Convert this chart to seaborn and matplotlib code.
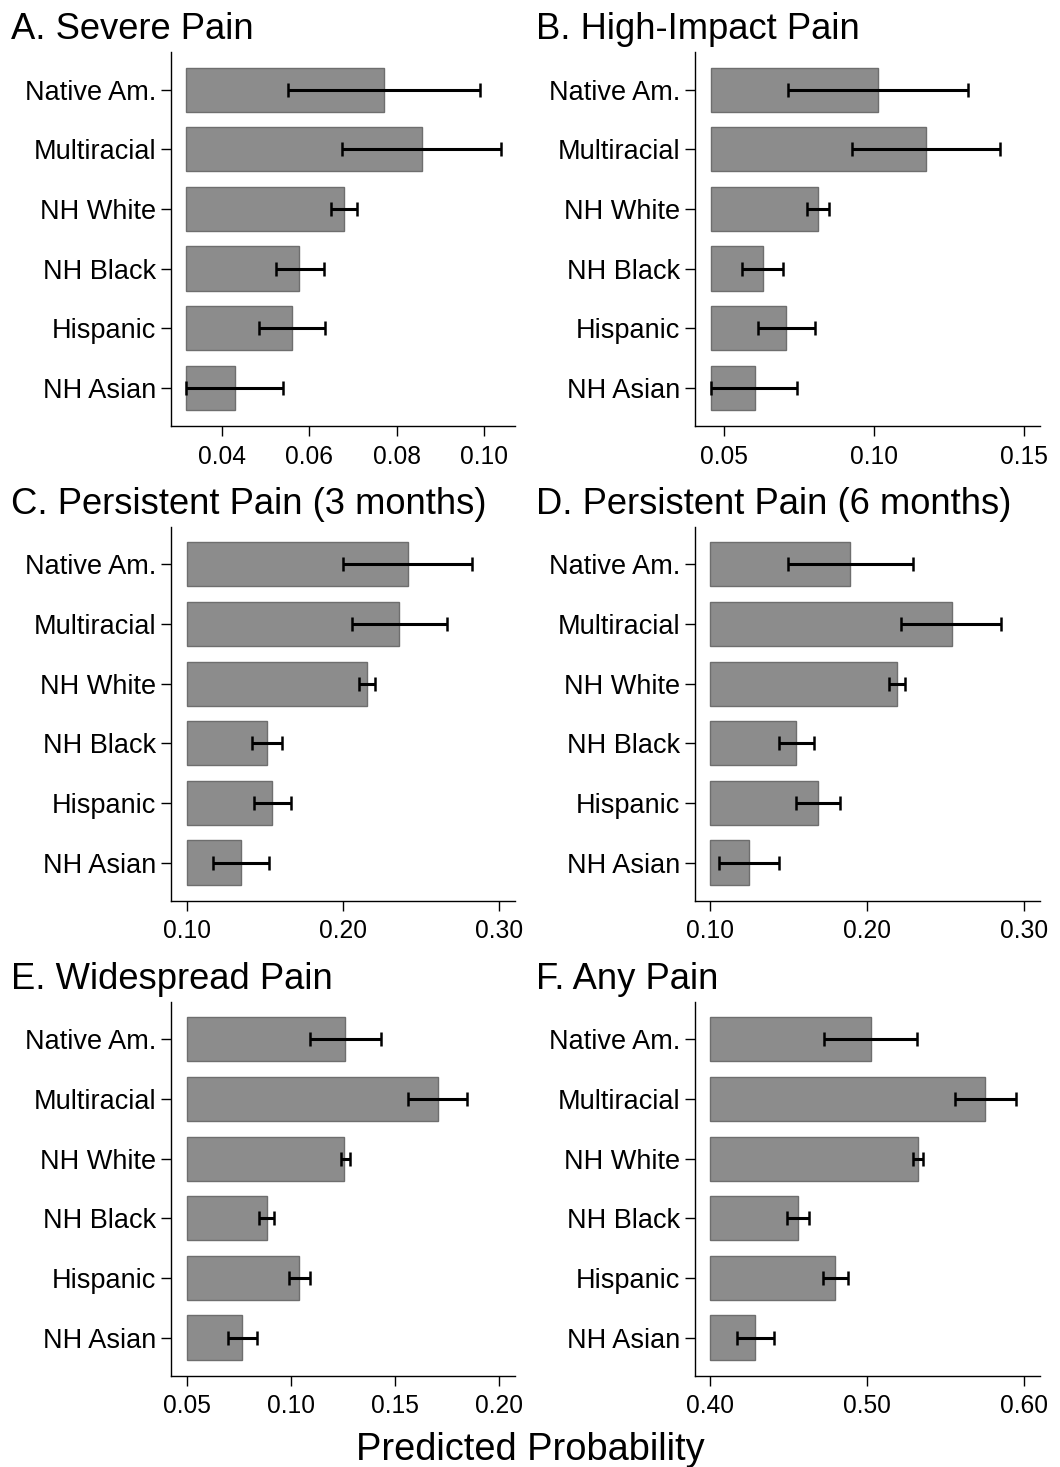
import numpy as np
import pandas as pd
import matplotlib
matplotlib.use("Agg")
import matplotlib.pyplot as plt
import seaborn as sns
from matplotlib.ticker import FormatStrFormatter

categories = ["Native Am.", "Multiracial", "NH White", "NH Black", "Hispanic", "NH Asian"]

titles = ["A. Severe Pain", "B. High-Impact Pain", "C. Persistent Pain (3 months)",
          "D. Persistent Pain (6 months)", "E. Widespread Pain", "F. Any Pain"]

severe = [0.0770, 0.0858, 0.0679, 0.0578, 0.0560, 0.0430]
severe_lo = [0.0552, 0.0676, 0.0649, 0.0525, 0.0485, 0.0319]
severe_hi = [0.0989, 0.1039, 0.0710, 0.0634, 0.0636, 0.0540]

high_impact = [0.1013, 0.1173, 0.0813, 0.0629, 0.0708, 0.0603]
high_impact_lo = [0.0713, 0.0926, 0.0778, 0.0560, 0.0613, 0.0457]
high_impact_hi = [0.1314, 0.1420, 0.0851, 0.0696, 0.0804, 0.0744]

persist3 = [0.2414, 0.2360, 0.2154, 0.1514, 0.1546, 0.1348]
persist3_lo = [0.2000, 0.2055, 0.2104, 0.1420, 0.1433, 0.1171]
persist3_hi = [0.2825, 0.2665, 0.2205, 0.1608, 0.1665, 0.1525]

persist6 = [0.1893, 0.2539, 0.2192, 0.1546, 0.1684, 0.1244]
persist6_lo = [0.1493, 0.2218, 0.2137, 0.1438, 0.1544, 0.1053]
persist6_hi = [0.2294, 0.2855, 0.2243, 0.1659, 0.1825, 0.1440]

widespread = [0.1261, 0.1704, 0.1256, 0.0885, 0.1041, 0.0767]
widespread_lo = [0.1092, 0.1563, 0.1239, 0.0849, 0.0993, 0.0697]
widespread_hi = [0.1432, 0.1843, 0.1282, 0.0919, 0.1090, 0.0836]

any_pain = [0.5022, 0.5753, 0.5324, 0.4559, 0.4795, 0.4287]
any_pain_lo = [0.4727, 0.5560, 0.5290, 0.4489, 0.4716, 0.4172]
any_pain_hi = [0.5320, 0.5949, 0.5358, 0.4631, 0.4878, 0.4408]

bases = [0.032, 0.0458, 0.10, 0.10, 0.05, 0.40]
xlims = [(0.0284, 0.107), (0.0403, 0.1554), (0.0898, 0.310),
         (0.090, 0.3102), (0.0423, 0.2075), (0.390, 0.6102)]
xticks = [[0.04, 0.06, 0.08, 0.10], [0.05, 0.10, 0.15], [0.10, 0.20, 0.30],
          [0.10, 0.20, 0.30], [0.05, 0.10, 0.15, 0.20], [0.40, 0.50, 0.60]]

series = [(severe, severe_lo, severe_hi), (high_impact, high_impact_lo, high_impact_hi),
          (persist3, persist3_lo, persist3_hi), (persist6, persist6_lo, persist6_hi),
          (widespread, widespread_lo, widespread_hi), (any_pain, any_pain_lo, any_pain_hi)]

sns.set_style("ticks")
plt.rcParams["font.family"] = ["Liberation Sans", "DejaVu Sans"]

W, H = 1060, 1467
fig = plt.figure(figsize=(W / 100, H / 100), dpi=100)

col_x = [(170.7, 515.0), (694.7, 1040.0)]
row_y = [(52.0, 426.0), (526.7, 900.7), (1001.7, 1375.7)]
title_x = [11, 536]
title_base = [38.8, 513.8, 988.8]

bar_face = "#8c8c8c"
bar_edge = "#6e6e6e"

for i, (vals, lo, hi) in enumerate(series):
    r, c = divmod(i, 2)
    x0, x1 = col_x[c]
    yt, yb = row_y[r]
    ax = fig.add_axes([x0 / W, 1 - yb / H, (x1 - x0) / W, (yb - yt) / H])
    df = pd.DataFrame({"cat": categories, "val": vals})
    sns.barplot(data=df, x="val", y="cat", order=categories, color=bar_face,
                saturation=1, width=0.74, edgecolor=bar_edge, linewidth=1.0,
                ax=ax, orient="h")
    base = bases[i]
    for p in ax.patches:
        right = p.get_x() + p.get_width()
        p.set_x(base)
        p.set_width(right - base)
    v = np.array(vals)
    ax.errorbar(v, np.arange(len(categories)),
                xerr=[v - np.array(lo), np.array(hi) - v],
                fmt="none", ecolor="black", elinewidth=2.2, capsize=4.8,
                capthick=1.8, zorder=5)
    ax.set_xlim(*xlims[i])
    ax.set_ylim(5.64, -0.63)
    ax.set_xticks(xticks[i])
    ax.xaxis.set_major_formatter(FormatStrFormatter("%.2f"))
    ax.set_xlabel("")
    ax.set_ylabel("")
    sns.despine(ax=ax)
    for s in ["left", "bottom"]:
        ax.spines[s].set_linewidth(1.0)
        ax.spines[s].set_color("black")
    ax.tick_params(axis="y", length=7, width=1.0, pad=3.5, labelsize=19.5, colors="black")
    ax.tick_params(axis="x", length=7, width=1.0, pad=6.5, labelsize=17.7, colors="black")
    fig.text(title_x[c] / W, 1 - title_base[r] / H, titles[i], fontsize=26.2,
             ha="left", va="baseline", color="black")

fig.text(0.5, 1 - 1460 / H, "Predicted Probability", fontsize=27.4, ha="center",
         va="baseline", color="black")

fig.savefig("out.png", dpi=100)
